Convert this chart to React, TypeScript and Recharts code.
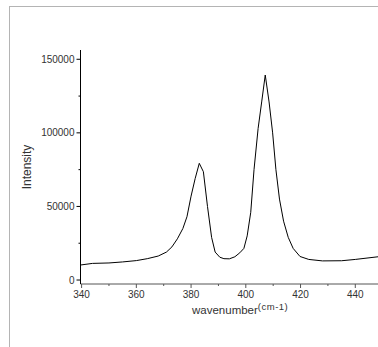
import { LineChart, Line, XAxis, YAxis } from "recharts";

// Raman spectrum
const wavenumber = [
  339.6, 344, 350, 355, 360, 364, 368, 371, 373, 375, 377, 378.5, 380, 381.5, 383,
  384.5, 386, 387.5, 388.8, 390.5, 392, 394, 396, 397.8, 399.3, 400.5, 401.8, 403,
  404.5, 405.8, 407.1, 408.5, 409.8, 411, 412.3, 413.8, 415.5, 417.3, 419.8, 423,
  428, 435, 440, 448.3,
];
const intensity = [
  10200, 11300, 11600, 12300, 13200, 14500, 16300, 19000, 22500, 28000, 35000, 43000,
  57000, 69000, 79300, 73600, 50000, 29000, 19000, 15500, 14500, 14400, 15800, 18500,
  21500, 30000, 46000, 75000, 103000, 121000, 139300, 121000, 100000, 75000, 55000,
  40000, 29000, 21500, 16000, 14000, 13000, 13100, 14000, 15800,
];
const xTicks = [340, 350, 360, 370, 380, 390, 400, 410, 420, 430, 440];
const yTicks = [0, 25000, 50000, 75000, 100000, 125000, 150000];

const data = wavenumber.map((w, i) => ({ w, v: intensity[i] }));

const FONT = "'Liberation Sans', Arial, sans-serif";

function YTick({ x, y, payload }: any) {
  const major = payload.value % 50000 === 0;
  return (
    <g>
      <line x1={x} x2={x - (major ? 4 : 2)} y1={y} y2={y} stroke="#000" />
      {major && (
        <text x={x - 6} y={y} dy={3.5} textAnchor="end" fontSize={10} fill="#333" fontFamily={FONT}>
          {payload.value}
        </text>
      )}
    </g>
  );
}

function XTick({ x, y, payload }: any) {
  const major = payload.value % 20 === 0;
  return (
    <g>
      <line x1={x} x2={x} y1={y} y2={y + (major ? 4 : 2)} stroke="#555" />
      {major && (
        <text x={x} y={y + 14} textAnchor="middle" fontSize={10} fill="#333" fontFamily={FONT}>
          {payload.value}
        </text>
      )}
    </g>
  );
}

export default function App() {
  return (
    <div style={{ position: "fixed", left: 0, top: 0, width: 378, height: 347, background: "#fff", overflow: "hidden" }}>
      {/* grey frame on the left and top */}
      <div
        style={{
          position: "absolute",
          left: 9,
          top: 6,
          width: 380,
          height: 360,
          borderLeft: "1.5px solid #b4b4b4",
          borderTop: "1.5px solid #b4b4b4",
        }}
      />
      <LineChart
        width={378}
        height={347}
        data={data}
        margin={{ top: 50, right: 0, bottom: 33, left: 10.5 }}
        style={{ position: "absolute", left: 0, top: 0 }}
      >
        <XAxis
          dataKey="w"
          type="number"
          domain={[339.6, 448.3]}
          ticks={xTicks}
          allowDataOverflow
          height={30}
          tickSize={0}
          tickMargin={0}
          tickLine={false}
          tick={<XTick />}
          stroke="#555"
          interval={0}
        />
        <YAxis
          type="number"
          domain={[-2700, 156300]}
          ticks={yTicks}
          allowDataOverflow
          width={70}
          tickSize={0}
          tickMargin={0}
          tickLine={false}
          tick={<YTick />}
          stroke="#000"
          interval={0}
        />
        <Line
          dataKey="v"
          type="linear"
          stroke="#000"
          strokeWidth={1}
          dot={false}
          isAnimationActive={false}
        />
      </LineChart>
      <div
        style={{
          position: "absolute",
          left: 27,
          top: 167,
          transform: "translate(-50%, -50%) rotate(-90deg)",
          fontFamily: FONT,
          fontSize: 12,
          color: "#333",
          whiteSpace: "nowrap",
        }}
      >
        Intensity
      </div>
      <div
        style={{
          position: "absolute",
          left: 192,
          top: 304,
          fontFamily: FONT,
          fontSize: 11.5,
          color: "#333",
          whiteSpace: "nowrap",
        }}
      >
        wavenumber
        <span style={{ fontSize: 9.5, position: "relative", top: -4, letterSpacing: 0.5 }}>(cm-1)</span>
      </div>
    </div>
  );
}
